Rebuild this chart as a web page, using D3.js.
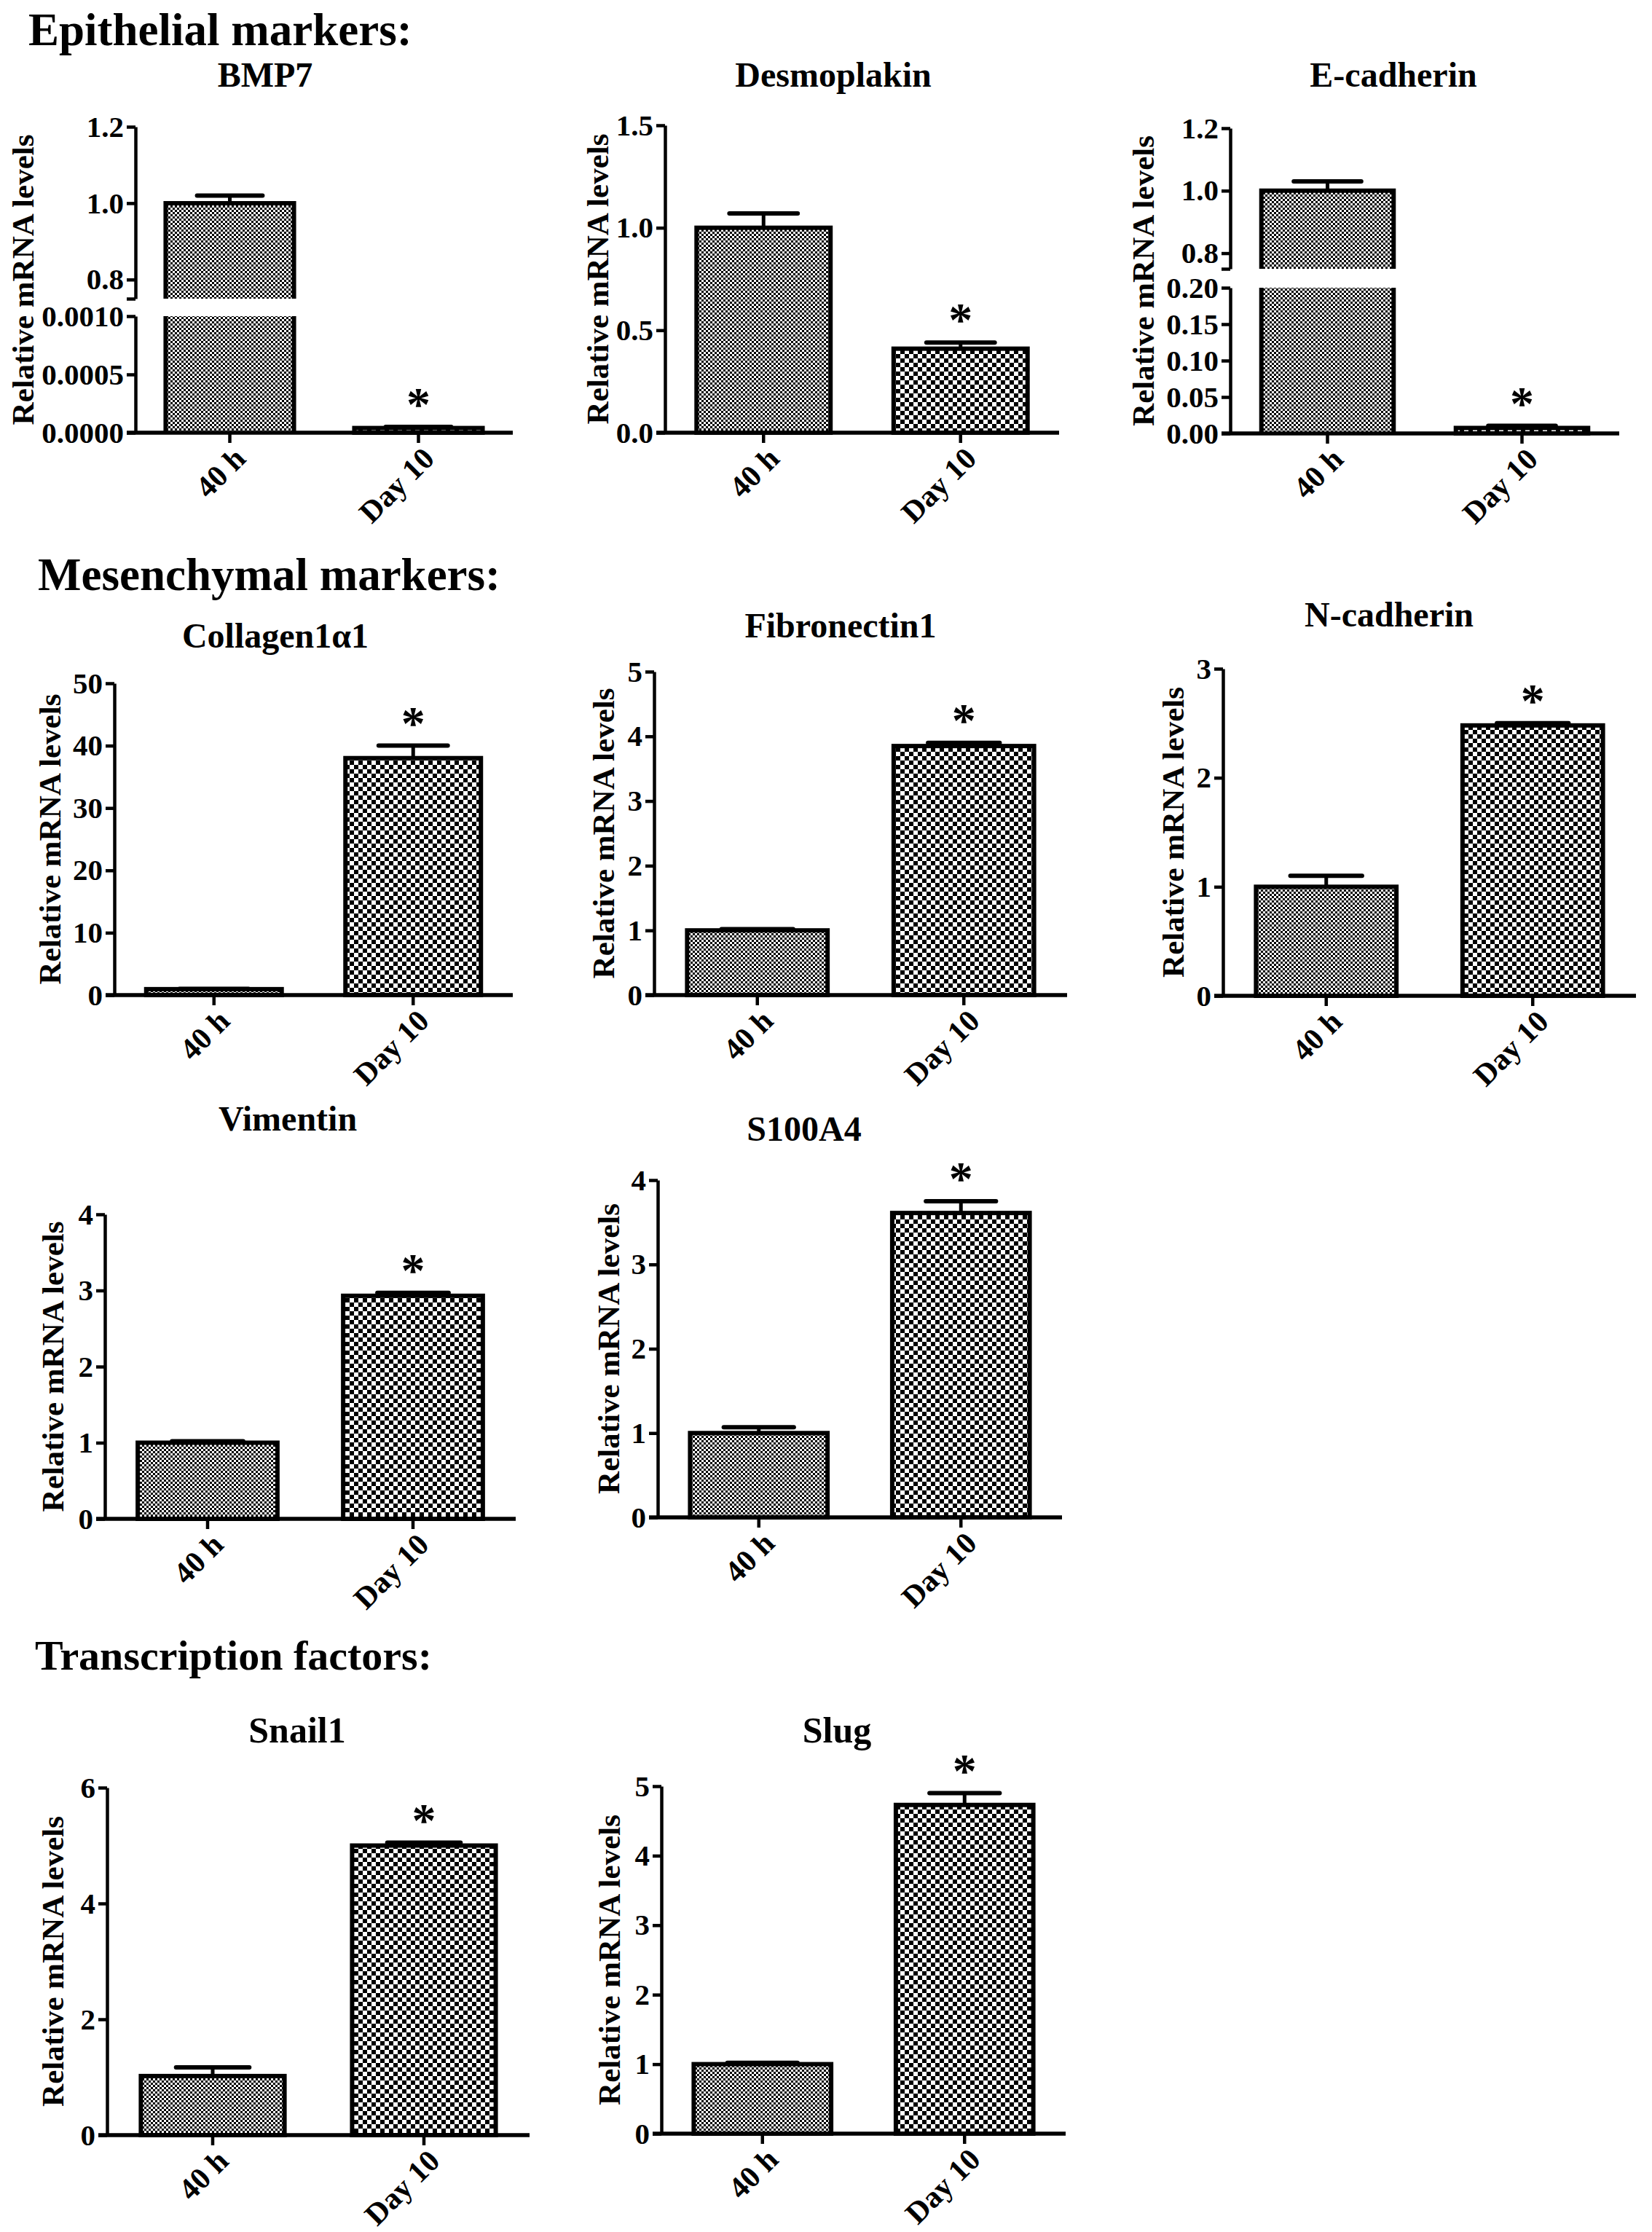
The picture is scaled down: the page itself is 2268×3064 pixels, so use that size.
<!DOCTYPE html>
<html><head><meta charset="utf-8">
<script src="https://cdn.jsdelivr.net/npm/d3@7"></script>
<style>
body{margin:0;background:#fff}
svg{display:block}
text{font-family:"Liberation Serif","Times New Roman",serif;font-weight:bold;fill:#000}
</style>
</head><body>
<svg id="c" width="2268" height="3064"></svg>
<script>
// ---------------- DATA ----------------
const categories = ["40 h", "Day 10"];
const sectionTitles = ["Epithelial markers:", "Mesenchymal markers:", "Transcription factors:"];
const markers = ["BMP7", "Desmoplakin", "E-cadherin", "Collagen1α1", "Fibronectin1", "N-cadherin", "Vimentin", "S100A4", "Snail1", "Slug"];
const mean40h  = [1.0, 1.0, 1.0, 0.95, 1.0, 1.0, 1.0, 1.0, 1.02, 1.0];
const sem40h   = [0.02, 0.07, 0.03, 0.05, 0.02, 0.10, 0.02, 0.07, 0.15, 0.02];
const meanDay10 = [0.00004, 0.41, 0.0075, 38.0, 3.85, 2.48, 2.93, 3.61, 5.0, 4.73];
const semDay10  = [0.00001, 0.03, 0.003, 2.0, 0.05, 0.02, 0.04, 0.14, 0.05, 0.17];
const day10Significant = [true, true, true, true, true, true, true, true, true, true];
const yTicks = [
  [0, 0.0005, 0.0010],
  [0, 0.5, 1.0, 1.5],
  [0, 0.05, 0.10, 0.15, 0.20],
  [0, 10, 20, 30, 40, 50],
  [0, 1, 2, 3, 4, 5],
  [0, 1, 2, 3],
  [0, 1, 2, 3, 4],
  [0, 1, 2, 3, 4],
  [0, 2, 4, 6],
  [0, 1, 2, 3, 4, 5]
];
const yTickFormats = [".4f", ".1f", ".2f", "d", "d", "d", "d", "d", "d", "d"];
const brokenMarkers = ["BMP7", "E-cadherin"];
const upperSegmentDomain = [0.75, 1.2];
const upperSegmentTicks = [0.8, 1.0, 1.2];
const yAxisTitle = "Relative mRNA levels";

// ---------------- LAYOUT ----------------
const sectionLayout = [
  {x: 39, y: 62, size: 63}, {x: 52, y: 810, size: 63}, {x: 48, y: 2292, size: 58}
];
const layout = [
  {L:186, R:704, top:174, base:594, lowTop:434, highBottom:410, tx:364, ty:119, ts:48, lx:31},
  {L:913, R:1454, top:172, base:594, tx:1144, ty:119, ts:48, lx:820},
  {L:1689, R:2223, top:176, base:595, lowTop:395, highBottom:369, tx:1913, ty:119, ts:48, lx:1569},
  {L:157, R:704, top:938, base:1366, tx:378, ty:889, ts:48, lx:68},
  {L:898, R:1465, top:922, base:1366, tx:1154, ty:875, ts:48, lx:828},
  {L:1679, R:2246, top:918, base:1367, tx:1907, ty:860, ts:48, lx:1610},
  {L:144, R:708, top:1667, base:2085, tx:395, ty:1552, ts:48, lx:72},
  {L:903, R:1458, top:1620, base:2083, tx:1104, ty:1566, ts:48, lx:835},
  {L:147, R:727, top:2454, base:2931, tx:408, ty:2392, ts:50, lx:72},
  {L:908, R:1463, top:2452, base:2929, tx:1149, ty:2392, ts:50, lx:836}
];

const svg = d3.select("#c");
const defs = svg.append("defs");
function checker(id, cell) {
  const p = defs.append("pattern").attr("id", id).attr("patternUnits", "userSpaceOnUse")
    .attr("width", cell * 2).attr("height", cell * 2);
  p.append("rect").attr("width", cell * 2).attr("height", cell * 2).attr("fill", "#fff");
  p.append("rect").attr("width", cell).attr("height", cell).attr("fill", "#000");
  p.append("rect").attr("x", cell).attr("y", cell).attr("width", cell).attr("height", cell).attr("fill", "#000");
}
checker("fine", 3);
checker("coarse", 6);
const fills = ["url(#fine)", "url(#coarse)"];

svg.selectAll("text.section").data(sectionTitles).join("text")
  .attr("class", "section")
  .attr("x", (d, i) => sectionLayout[i].x).attr("y", (d, i) => sectionLayout[i].y)
  .attr("font-size", (d, i) => sectionLayout[i].size).text(d => d);

function styleAxis(g, w) {
  g.attr("font-size", null).attr("font-family", null);
  g.select(".domain").attr("stroke", "#000").attr("stroke-width", w);
  g.selectAll(".tick line").attr("stroke", "#000").attr("stroke-width", 4.5);
}

markers.forEach((name, i) => {
  const lay = layout[i];
  const g = svg.append("g");
  const ticks = yTicks[i];
  const lowMax = ticks[ticks.length - 1];
  const broken = brokenMarkers.includes(name);
  const x = d3.scaleBand().domain(categories).range([lay.L, lay.R]).paddingInner(0.32).paddingOuter(0.16);
  const yLow = d3.scaleLinear().domain([0, lowMax]).range([lay.base, broken ? lay.lowTop : lay.top]);
  const yHigh = broken ? d3.scaleLinear().domain(upperSegmentDomain).range([lay.highBottom, lay.top]) : null;
  const means = [mean40h[i], meanDay10[i]];
  const sems = [sem40h[i], semDay10[i]];
  const w = x.bandwidth();

  // title
  g.append("text").attr("x", lay.tx).attr("y", lay.ty).attr("text-anchor", "middle")
    .attr("font-size", lay.ts).text(name);

  // y-axis title
  const midY = (lay.top + lay.base) / 2;
  g.append("text").attr("transform", `translate(${lay.lx},${midY}) rotate(-90)`)
    .attr("text-anchor", "middle").attr("dy", "0.35em").attr("font-size", 43).text(yAxisTitle);

  categories.forEach((c, k) => {
    const v = means[k], e = sems[k];
    const x0 = x(c), cx = x0 + w / 2;
    let yv, ye;
    if (broken && v > lowMax) {
      g.append("rect").attr("x", x0).attr("y", yLow(lowMax)).attr("width", w)
        .attr("height", lay.base - yLow(lowMax)).attr("fill", fills[k]);
      g.append("path").attr("d", `M${x0},${lay.base}V${yLow(lowMax)}M${x0 + w},${lay.base}V${yLow(lowMax)}`)
        .attr("stroke", "#000").attr("stroke-width", 6).attr("fill", "none");
      g.append("rect").attr("x", x0).attr("y", yHigh(v)).attr("width", w)
        .attr("height", lay.highBottom - yHigh(v)).attr("fill", fills[k]);
      g.append("path").attr("d", `M${x0},${lay.highBottom}V${yHigh(v)}H${x0 + w}V${lay.highBottom}`)
        .attr("stroke", "#000").attr("stroke-width", 6).attr("fill", "none");
      yv = yHigh(v); ye = yHigh(v + e);
    } else {
      g.append("rect").attr("x", x0).attr("y", yLow(v)).attr("width", w)
        .attr("height", lay.base - yLow(v)).attr("fill", fills[k])
        .attr("stroke", "#000").attr("stroke-width", 6);
      yv = yLow(v); ye = yLow(v + e);
    }
    g.append("line").attr("x1", cx).attr("x2", cx).attr("y1", yv).attr("y2", ye)
      .attr("stroke", "#000").attr("stroke-width", 5);
    g.append("line").attr("x1", cx - w * 0.255).attr("x2", cx + w * 0.255).attr("y1", ye).attr("y2", ye)
      .attr("stroke", "#000").attr("stroke-width", 6).attr("stroke-linecap", "round");
    if (k === 1 && day10Significant[i]) {
      g.append("text").attr("x", cx).attr("y", ye - 9).attr("text-anchor", "middle")
        .attr("font-size", 66).text("*");
    }
  });

  // y axis
  const fmt = d3.format(yTickFormats[i]);
  const ay = g.append("g").attr("transform", `translate(${lay.L},0)`)
    .call(d3.axisLeft(yLow).tickValues(ticks).tickFormat(fmt).tickSize(12).tickSizeOuter(0).tickPadding(4));
  styleAxis(ay, 4.5);
  ay.selectAll(".tick text").attr("font-size", 41);
  if (broken) {
    const ay2 = g.append("g").attr("transform", `translate(${lay.L},0)`)
      .call(d3.axisLeft(yHigh).tickValues([upperSegmentDomain[0]].concat(upperSegmentTicks))
        .tickFormat(d => d === upperSegmentDomain[0] ? "" : d3.format(".1f")(d))
        .tickSize(12).tickSizeOuter(0).tickPadding(4));
    styleAxis(ay2, 4.5);
    ay2.selectAll(".tick text").attr("font-size", 41);
  }

  // x axis
  const ax = g.append("g").attr("transform", `translate(0,${lay.base})`)
    .call(d3.axisBottom(x).tickSize(14).tickSizeOuter(0));
  styleAxis(ax, 5.5);
  ax.select(".domain").attr("d", `M${lay.L - 12},0H${lay.R}`);
  ax.selectAll(".tick text").attr("font-size", 42)
    .attr("text-anchor", "end").attr("x", 0).attr("y", 0).attr("dy", 0)
    .attr("transform", "translate(24,38) rotate(-45)");
});
</script>
</body></html>
